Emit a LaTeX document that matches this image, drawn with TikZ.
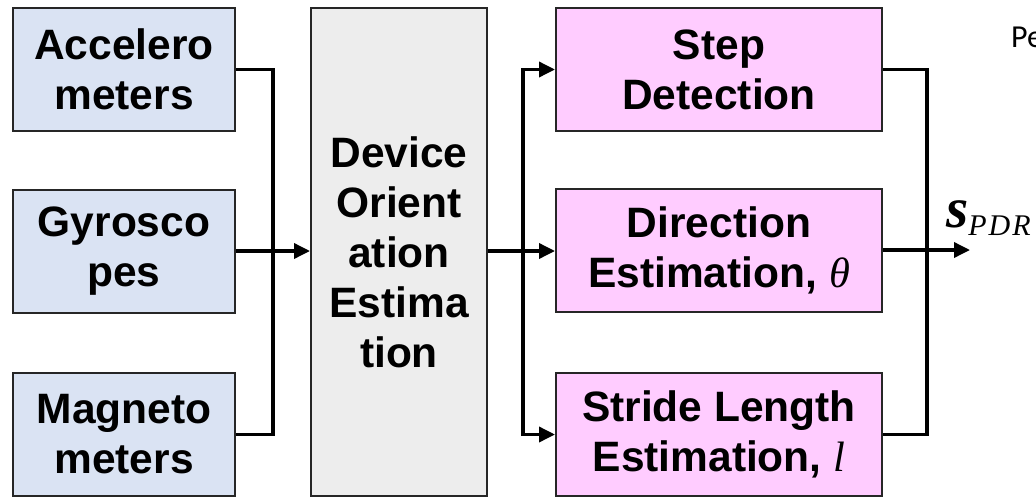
\documentclass[tikz,border=0pt]{standalone}
\usepackage{fontspec}
\setmainfont{Liberation Sans}
\newfontfamily\calfont{Carlito}
\newfontfamily\mf{Liberation Serif}
\usetikzlibrary{arrows.meta}
\definecolor{sensorblue}{HTML}{DAE3F3}
\definecolor{devgray}{HTML}{EDEDED}
\definecolor{procpink}{HTML}{FFCCFF}
\newcommand{\mvar}[1]{{\mf\mdseries\itshape #1}}
\tikzset{
  box/.style={draw=black!85, line width=2pt, inner sep=0pt, align=center,
    font=\fontsize{42.5}{50}\selectfont\bfseries},
  sensor/.style={box, fill=sensorblue, minimum width=222pt, minimum height=123pt},
  devbox/.style={box, fill=devgray, minimum width=176pt, minimum height=488pt},
  proc/.style={box, fill=procpink, minimum width=326pt, minimum height=123pt},
  conn/.style={line width=3.5pt, black},
  arr/.style={conn, -{Triangle[length=16pt,width=15pt]}}
}
\begin{document}
\begin{tikzpicture}[x=1pt,y=-1pt]
\clip (0,0) rectangle (1036,498);
\fill[white] (0,0) rectangle (1036,498);
% sensors
\node[sensor] (acc) at (124,69.5) {Accelero\\meters};
\node[sensor] (gyr) at (124,251) {Gyrosco\\pes};
\node[sensor] (mag) at (124,434.5) {Magneto\\meters};
% device orientation
\node[devbox] (dev) at (399,252) {Device\\Orient\\ation\\Estima\\tion};
% processing
\node[proc] (step) at (719,69.5) {Step\\Detection};
\node[proc] (dir) at (719,250) {Direction\\Estimation, \mvar{θ}};
\node[proc] (str) at (719,434.5) {Stride Length\\Estimation, \mvar{l}};
% junctions
\coordinate (jl) at (273,251);
\coordinate (jr) at (523,251);
\coordinate (jo) at (927,250);
\coordinate (out) at (970,250);
% left connectors
\draw[conn] (acc.east) -| (jl) |- (mag.east);
\draw[arr] (gyr.east) -- (gyr.east -| dev.west);
% middle connectors
\draw[conn] (dev.east |- jr) -- (jr);
\draw[arr] (jr) |- (step.west);
\draw[arr] (jr) -- (jr -| dir.west);
\draw[arr] (jr) |- (str.west);
% right connectors
\draw[conn] (step.east) -| (jo) |- (str.east);
\draw[arr] (dir.east) -- (out);
% output label
\node[anchor=base west, inner sep=0pt] (spdr) at (946,227)
  {{\mf\bfseries\itshape\fontsize{57}{57}\selectfont s}\raisebox{-8pt}{\mf\itshape\fontsize{30}{30}\selectfont P\kern2pt D\kern2pt R}};
\node[anchor=base west, inner sep=0pt] (pe) at (1011,47)
  {\calfont\fontsize{32}{32}\selectfont Pe};
\end{tikzpicture}
\end{document}
